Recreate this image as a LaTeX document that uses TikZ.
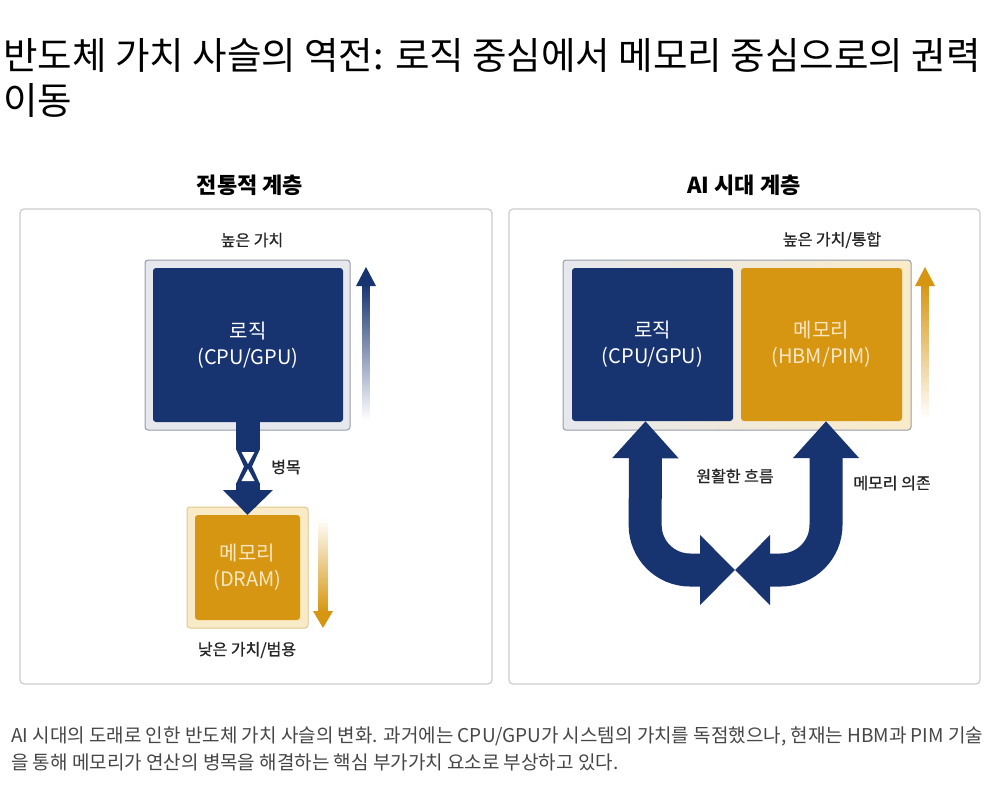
\documentclass[tikz,border=0pt]{standalone}
\usepackage{fontspec}
\setmainfont{Noto Sans CJK KR}
\newfontfamily\lblfont[FakeBold=0.8]{Noto Sans CJK KR}
\usetikzlibrary{arrows.meta}
\definecolor{navy}{RGB}{24,52,112}
\definecolor{gold}{RGB}{214,150,18}
\definecolor{creamtxt}{RGB}{250,232,196}
\definecolor{panelline}{RGB}{205,205,208}
\definecolor{graybox}{RGB}{230,232,238}
\definecolor{grayline}{RGB}{150,156,170}
\definecolor{creambox}{RGB}{250,235,200}
\definecolor{creamline}{RGB}{225,200,140}
\definecolor{captxt}{RGB}{70,70,70}
\tikzset{
  panel/.style={draw=panelline, line width=1.2pt, rounded corners=4pt, fill=white},
  outerbox/.style={rounded corners=3pt, line width=1pt, inner sep=0pt},
  blockbox/.style={rounded corners=3pt, inner sep=0pt, align=center,
     font=\fontsize{20}{26}\selectfont},
  navyblock/.style={blockbox, fill=navy, text=white},
  goldblock/.style={blockbox, fill=gold, text=creamtxt},
  heading/.style={font=\bfseries\fontsize{22}{25}\selectfont},
  lbl/.style={font=\lblfont\fontsize{16}{19}\selectfont, text=black!85},
  uarrow/.style={line width=33pt, navy, rounded corners=45pt}
}
\begin{document}
\begin{tikzpicture}[x=1pt,y=-1pt]
\useasboundingbox[fill=white] (0,0) rectangle (1000,784);

% title
\node[anchor=base west, inner sep=0pt, font=\fontsize{37.5}{45}\selectfont] (title1) at (3,69)
  {반도체 가치 사슬의 역전: 로직 중심에서 메모리 중심으로의 권력};
\node[anchor=base west, inner sep=0pt, font=\fontsize{37.5}{45}\selectfont] (title2) at (3,114) {이동};

% headings
\node[heading] (hL) at (250,185) {전통적 계층};
\node[heading] (hR) at (744,185) {AI 시대 계층};

% panels
\draw[panel] (20,209) rectangle (492,684);
\draw[panel] (509,209) rectangle (980,684);

% ---------- left panel ----------
\node[lbl] (highL) at (252,240) {높은 가치};
\node[outerbox, draw=grayline, fill=graybox, minimum width=205pt, minimum height=170pt] (logicLout) at (247.5,345) {};
\node[navyblock, minimum width=190pt, minimum height=154pt] (logicL) at (248,345) {로직\\(CPU/GPU)};

\node[outerbox, draw=creamline, fill=creambox, minimum width=121pt, minimum height=121pt] (memLout) at (247.5,567.5) {};
\node[goldblock, minimum width=105pt, minimum height=105pt] (memL) at (247.5,567.5) {메모리\\(DRAM)};

% bottleneck arrow
\fill[navy] ([xshift=-12pt]logicL.south) rectangle ([xshift=12pt,yshift=-28pt]logicL.south);
\fill[navy] (236,449) -- (260,449) -- (252,466.5) -- (260,484) -- (236,484) -- (244,466.5) -- cycle;
\fill[white] (241.5,452) -- (254.5,452) -- (248,464) -- cycle;
\fill[white] (241.5,481) -- (254.5,481) -- (248,469) -- cycle;
\fill[navy] (236,483) rectangle (260,491);
\fill[navy] (223,490) -- (273,490) -- (memL.north) -- cycle;
\node[lbl] (bottle) at (286,467) {병목};

% value arrows left
\shade[top color=navy, bottom color=white] (362.5,284) rectangle (369.5,420);
\fill[navy] (356,286) -- (376,286) -- (366,267) -- cycle;
\shade[top color=white, bottom color=gold] (318.5,518) rectangle (327.5,612);
\fill[gold] (313,611) -- (333,611) -- (323,628) -- cycle;

\node[lbl] (lowL) at (247,650) {낮은 가치/범용};

% ---------- right panel ----------
\node[lbl] (highR) at (832,240) {높은 가치/통합};
\shade[outerbox, draw=grayline, left color=graybox, right color=creambox, rounded corners=3pt]
  (563,260) rectangle (911,430);
\node[navyblock, minimum width=161pt, minimum height=153pt] (logicR) at (652.5,344.5) {로직\\(CPU/GPU)};
\node[goldblock, minimum width=161pt, minimum height=153pt] (memR) at (821.5,344.5) {메모리\\(HBM/PIM)};

\shade[top color=gold, bottom color=white] (921.5,284) rectangle (928.5,418);
\fill[gold] (915,286) -- (935,286) -- (925,267) -- cycle;

% U arrows
\coordinate (meet) at (735,570);
\draw[uarrow, {Triangle[width=64pt,length=37pt]}-{Triangle[width=68pt,length=35pt]}]
  ([xshift=-7pt]logicR.south) -- (645,570) -- (meet);
\draw[uarrow, {Triangle[width=64pt,length=37pt]}-{Triangle[width=68pt,length=35pt]}]
  ([xshift=4.5pt]memR.south) -- (826,570) -- (meet);

\node[lbl] (smooth) at (735,476) {원활한 흐름};
\node[lbl] (depend) at (892,483) {메모리 의존};

% caption
\node[anchor=base west, inner sep=0pt, text=captxt, font=\fontsize{19}{28}\selectfont] (cap1) at (11,742)
  {AI 시대의 도래로 인한 반도체 가치 사슬의 변화. 과거에는 CPU/GPU가 시스템의 가치를 독점했으나, 현재는 HBM과 PIM 기술};
\node[anchor=base west, inner sep=0pt, text=captxt, font=\fontsize{19}{28}\selectfont] (cap2) at (11,769)
  {을 통해 메모리가 연산의 병목을 해결하는 핵심 부가가치 요소로 부상하고 있다.};
\end{tikzpicture}
\end{document}
